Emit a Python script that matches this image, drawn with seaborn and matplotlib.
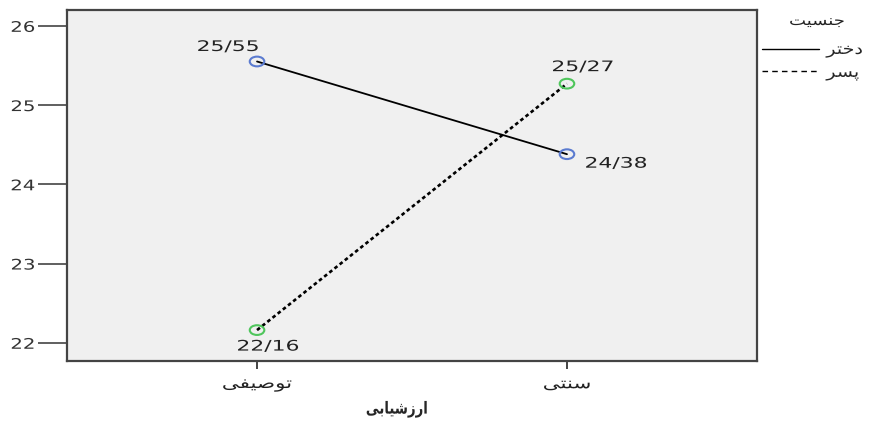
import pandas as pd
import seaborn as sns
import matplotlib.pyplot as plt
from matplotlib.path import Path
from matplotlib.transforms import Affine2D
from matplotlib.patheffects import AbstractPathEffect

# Persian labels, written in presentation forms (visual order) so matplotlib
# draws the joined letters right to left without a shaping library
method_labels = ["\uFEF0\uFED4\uFEF4\uFEBB\uFEEE\uFE97",  # توصیفی
                 "\uFEF0\uFE98\uFEE8\uFEB3"]              # سنتی
gender_labels = ["\uFEAE\uFE98\uFEA7\uFEA9",  # دختر
                 "\uFEAE\uFEB4\uFB58"]          # پسر
legend_title = "\uFE96\uFEF4\uFEB4\uFEE8\uFE9F"  # جنسیت
x_title = "\uFEF0\uFE91\uFE8E\uFEF4\uFEB7\uFEAF\uFEAD\uFE8D"  # ارزشیابی

girls = [25.55, 24.38]
boys = [22.16, 25.27]
value_text_girls = ["25/55", "24/38"]
value_text_boys = ["22/16", "25/27"]

df = pd.DataFrame({
    "method": method_labels * 2,
    "score": girls + boys,
    "gender": [gender_labels[0]] * 2 + [gender_labels[1]] * 2,
})


class Widen(AbstractPathEffect):
    # the reference text is stretched sideways, widen the glyph paths
    def __init__(self, factor=1.4, anchor="center"):
        super().__init__()
        self.factor = factor
        self.anchor = anchor

    def draw_path(self, renderer, gc, tpath, affine, rgbFace=None):
        ext = tpath.get_extents()
        if self.anchor == "left":
            x0 = ext.x0
        elif self.anchor == "right":
            x0 = ext.x1
        else:
            x0 = (ext.x0 + ext.x1) / 2
        pre = Affine2D().translate(-x0, 0).scale(self.factor, 1).translate(x0, 0)
        renderer.draw_path(gc, tpath, pre + affine, rgbFace)


sns.set_style("white")
plt.rcParams["font.family"] = ["DejaVu Sans"]

fig = plt.figure(figsize=(8.74, 4.23), dpi=100)
ax = fig.add_axes([0.0767, 0.1466, 0.7894, 0.8298])
ax.set_facecolor("#f0f0f0")

sns.lineplot(data=df, x="method", y="score", style="gender",
             color="black", linewidth=1.3,
             dashes={gender_labels[0]: "", gender_labels[1]: (1.4, 1.1)},
             ax=ax)
ax.lines[1].set_linewidth(1.9)
handles, labels = ax.get_legend_handles_labels()
ax.get_legend().remove()

ellipse = Path.unit_circle().transformed(Affine2D().scale(1.5, 1.0))
sns.scatterplot(data=df, x="method", y="score", hue="gender",
                palette=["#5b7bd0", "#4fc65c"], s=110, linewidth=1.5,
                marker=ellipse, legend=False, zorder=3, ax=ax)
for coll in ax.collections:
    coll.set_edgecolors(coll.get_facecolors())
    coll.set_facecolors("none")

# value labels
offsets_g = [(-29, 15), (49, -9)]
offsets_b = [(11, -16), (16, 17)]
for i in range(2):
    for txt, val, off in [(value_text_girls[i], girls[i], offsets_g[i]),
                          (value_text_boys[i], boys[i], offsets_b[i])]:
        t = ax.annotate(txt, (i, val), xytext=off, textcoords="offset pixels",
                        ha="center", va="center", fontsize=10.5, color="#222222")
        t.set_path_effects([Widen(1.5)])

ax.set_xlim(-0.613, 1.613)
ax.set_ylim(21.77, 26.20)
ax.set_yticks([22, 23, 24, 25, 26])
ax.set_xticks([0, 1])
ax.set_xticklabels(method_labels)
ax.set_ylabel("")
xl = ax.set_xlabel(x_title, fontsize=12, fontweight="bold")
xl.set_path_effects([Widen(0.8)])
ax.xaxis.set_label_coords(0.478, -0.11)

for s in ax.spines.values():
    s.set_visible(True)
    s.set_color("#444444")
    s.set_linewidth(1.6)
ax.tick_params(axis="y", length=21, width=1.2, color="#444444",
               labelsize=10.5, labelcolor="#333333", pad=2, left=True)
ax.tick_params(axis="x", length=6, width=1.4, color="#444444",
               labelsize=11, labelcolor="#222222", pad=5, bottom=True)
for tick in ax.yaxis.get_major_ticks():
    tick.label1.set_path_effects([Widen(1.35, "right")])
for tick in ax.xaxis.get_major_ticks():
    tick.label1.set_path_effects([Widen(1.4)])

# legend to the right of the plot, title placed on its own
leg = fig.legend(handles, labels, loc="center left",
                 bbox_to_anchor=(762 / 874, 1 - 61.5 / 423), frameon=False,
                 fontsize=11, handlelength=3.7, handletextpad=0.5,
                 labelspacing=0.5, borderpad=0, borderaxespad=0)
for line in leg.get_lines():
    line.set_linewidth(1.0)
leg.get_lines()[1].set_dashes((4, 3))
for t in leg.get_texts():
    t.set_path_effects([Widen(1.25, "left")])
ttl = fig.text(817 / 874, 1 - 21 / 423, legend_title, ha="center", va="center",
               fontsize=10, color="#222222")
ttl.set_path_effects([Widen(1.3)])

fig.savefig("out.png", dpi=100)
